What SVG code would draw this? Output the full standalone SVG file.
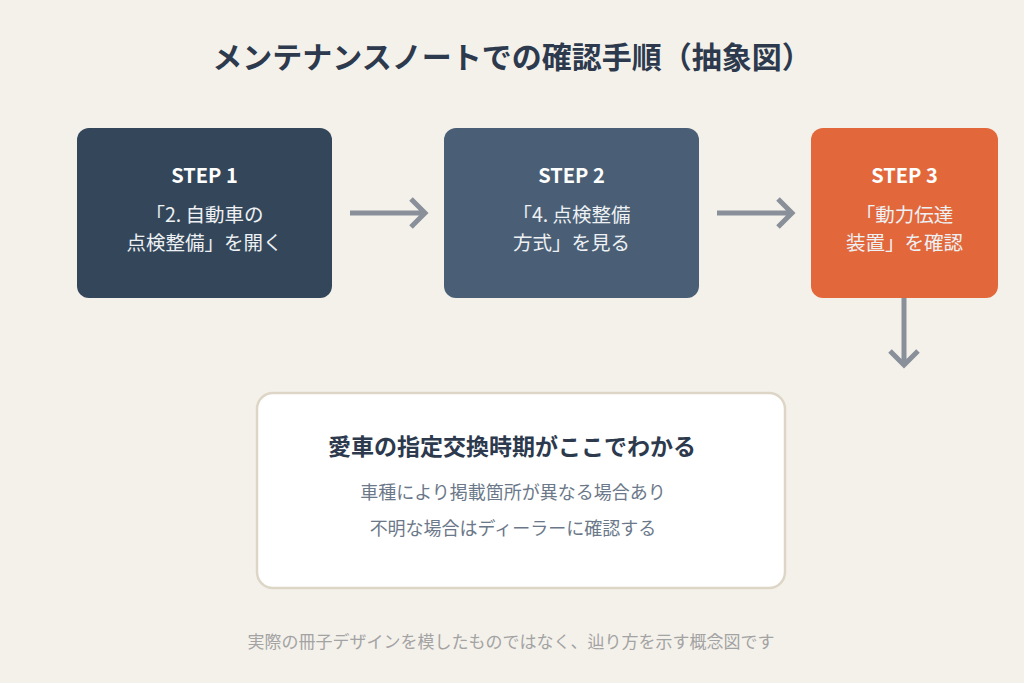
<svg xmlns="http://www.w3.org/2000/svg" width="1024" height="683" viewBox="0 0 1024 683">
<style>
.t{font-family:"Noto Sans CJK JP","Noto Sans",sans-serif;text-anchor:middle}
.step{font-size:20px;font-weight:700;fill:#ffffff}
.body{font-size:19.5px;fill:#eef1f4}
.conn{stroke:#8a9099;stroke-width:5;fill:none;stroke-linecap:butt}
</style>
<rect width="1024" height="683" fill="#f4f1eb"/>
<text class="t" x="512" y="68" font-size="30" font-weight="700" fill="#2d3a4e">メンテナンスノートでの確認手順（抽象図）</text>
<g id="step1">
<rect x="77" y="128" width="255" height="170" rx="12" fill="#34475a"/>
<text class="t step" x="204.5" y="183">STEP 1</text>
<text class="t body" x="204.5" y="222">「2. 自動車の</text>
<text class="t body" x="204.5" y="250">点検整備」を開く</text>
</g>
<g id="step2">
<rect x="444" y="128" width="255" height="170" rx="12" fill="#4a5f75"/>
<text class="t step" x="571.5" y="183">STEP 2</text>
<text class="t body" x="571.5" y="222">「4. 点検整備</text>
<text class="t body" x="571.5" y="250">方式」を見る</text>
</g>
<g id="step3">
<rect x="811" y="128" width="187" height="170" rx="12" fill="#e2683c"/>
<text class="t step" x="904.5" y="183">STEP 3</text>
<text class="t body" x="904.5" y="222">「動力伝達</text>
<text class="t body" x="904.5" y="250">装置」を確認</text>
</g>
<g id="connectors">
<path class="conn" d="M350 213H425M411 199L425 213L411 227"/>
<path class="conn" d="M717 213H792M778 199L792 213L778 227"/>
<path class="conn" d="M904 298V365M890 351L904 365L918 351"/>
</g>
<g id="result">
<rect x="257" y="393" width="528" height="195" rx="16" fill="#ffffff" stroke="#ddd6c6" stroke-width="2.5"/>
<text class="t" x="512" y="455" font-size="23" font-weight="700" fill="#2d3a4e">愛車の指定交換時期がここでわかる</text>
<text class="t" x="513" y="499" font-size="18" fill="#6b7889">車種により掲載箇所が異なる場合あり</text>
<text class="t" x="513" y="535" font-size="18" fill="#6b7889">不明な場合はディーラーに確認する</text>
</g>
<text class="t" x="511" y="648" font-size="17" fill="#a3a3a3">実際の冊子デザインを模したものではなく、辿り方を示す概念図です</text>
</svg>
